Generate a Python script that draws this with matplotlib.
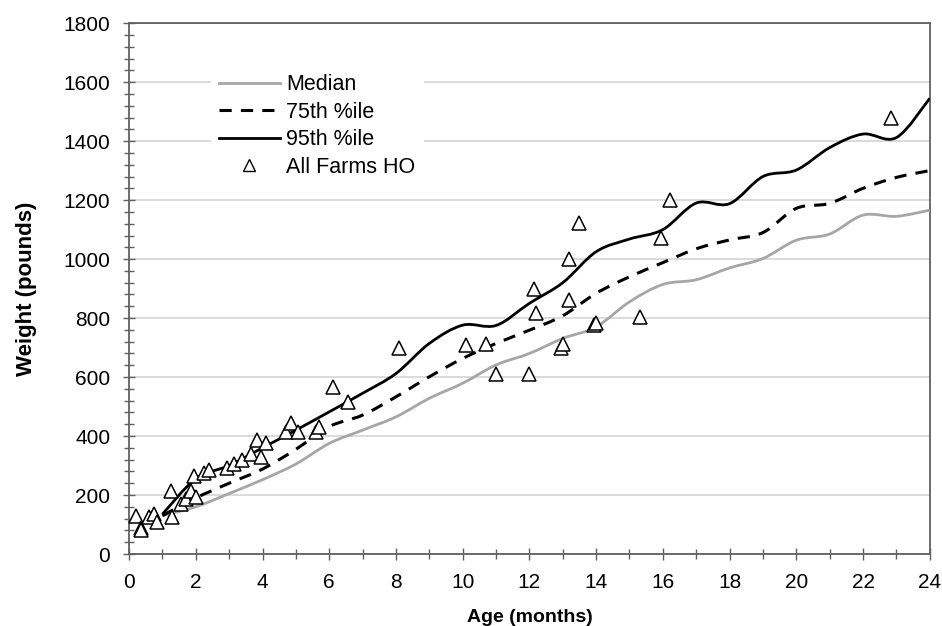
import numpy as np
import matplotlib
matplotlib.use("Agg")
import matplotlib.pyplot as plt
from matplotlib.path import Path
from matplotlib.patches import PathPatch
from matplotlib.lines import Line2D
from matplotlib.ticker import MultipleLocator

plt.rcParams['font.family'] = ['Liberation Sans', 'DejaVu Sans']

# Monthly growth curves (pounds)
months = [1, 2, 3, 4, 5, 6, 7, 8, 9, 10, 11, 12,
          13, 14, 15, 16, 17, 18, 19, 20, 21, 22, 23, 24]
median = [130, 160, 205, 252, 305, 375, 420, 465, 528, 579, 641, 680,
          731, 770, 855, 914, 930, 970, 1002, 1064, 1085, 1149, 1145, 1166]
p75 = [130, 190, 240, 288, 355, 432, 471, 533, 601, 663, 714, 759,
       808, 884, 940, 988, 1035, 1065, 1090, 1172, 1189, 1240, 1277, 1300]
p95 = [135, 255, 300, 360, 420, 482, 545, 612, 714, 776, 775, 850,
       920, 1025, 1068, 1100, 1190, 1188, 1280, 1302, 1378, 1424, 1412, 1545]

# Individual farm observations
farm_age = [0.2, 0.35, 0.37, 0.6, 0.75, 0.85, 1.25, 1.3, 1.55, 1.7, 1.85,
            1.95, 2.0, 2.25, 2.4, 2.95, 3.15, 3.4, 3.65, 3.85, 3.95, 4.1,
            4.7, 4.85, 5.05, 5.6, 5.7, 6.1, 6.55, 8.1, 10.1, 10.7, 11.0,
            12.0, 12.15, 12.2, 12.95, 13.0, 13.2, 13.2, 13.5, 13.95, 14.0,
            15.3, 15.95, 16.2, 22.85]
farm_wt = [130, 88, 80, 125, 135, 108, 215, 125, 170, 185, 215,
           265, 195, 275, 285, 290, 305, 320, 340, 385, 330, 375,
           415, 445, 415, 415, 430, 565, 515, 697, 708, 712, 612,
           612, 900, 816, 700, 712, 1000, 860, 1122, 776, 782,
           804, 1070, 1200, 1480]


def smooth_path(xs, ys):
    # Excel-style smoothed line: cubic bezier segments through each point
    pts = np.column_stack([xs, ys]).astype(float)
    verts = [pts[0]]
    codes = [Path.MOVETO]
    n = len(pts)
    for i in range(n - 1):
        p0 = pts[max(i - 1, 0)]
        p1 = pts[i]
        p2 = pts[i + 1]
        p3 = pts[min(i + 2, n - 1)]
        c1 = p1 + (p2 - p0) / 6.0
        c2 = p2 - (p3 - p1) / 6.0
        verts += [c1, c2, p2]
        codes += [Path.CURVE4] * 3
    return Path(verts, codes)


fig = plt.figure(figsize=(9.42, 6.26), dpi=100)
ax = fig.add_axes([0.137, 0.115, 0.850, 0.848])

ax.set_xlim(0, 24)
ax.set_ylim(0, 1800)

ax.yaxis.grid(True, color='#d4d4d4', linewidth=1.2)
ax.set_axisbelow(True)

gray = '#a6a6a6'
ax.add_patch(PathPatch(smooth_path(months, median), fill=False,
                       edgecolor=gray, linewidth=2.0, zorder=3))
ax.add_patch(PathPatch(smooth_path(months, p75), fill=False,
                       edgecolor='black', linewidth=2.2,
                       linestyle=(0, (4, 3)), zorder=3))
ax.add_patch(PathPatch(smooth_path(months, p95), fill=False,
                       edgecolor='black', linewidth=2.0, zorder=3))

ax.plot(farm_age, farm_wt, linestyle='none', marker='^', markersize=10.5,
        markerfacecolor='white', markeredgecolor='black',
        markeredgewidth=1.1, zorder=4, clip_on=False)

ax.xaxis.set_major_locator(MultipleLocator(2))
ax.xaxis.set_minor_locator(MultipleLocator(1))
ax.yaxis.set_major_locator(MultipleLocator(200))
ax.yaxis.set_minor_locator(MultipleLocator(40))
ax.tick_params(which='both', direction='inout', color='#606060',
               width=1.0, labelsize=15, labelcolor='black')
ax.tick_params(which='major', length=9)
ax.tick_params(which='minor', length=7)
ax.tick_params(axis='x', pad=9)
ax.tick_params(axis='y', pad=9)

for s in ax.spines.values():
    s.set_color('#606060')
    s.set_linewidth(1.3)

ax.set_xlabel('Age (months)', fontsize=14, fontweight='bold')
ax.set_ylabel('Weight (pounds)', fontsize=16, fontweight='bold')
ax.xaxis.set_label_coords(0.5, -0.104)
ax.yaxis.set_label_coords(-0.115, 0.5)

handles = [
    Line2D([], [], color=gray, linewidth=2.0),
    Line2D([], [], color='black', linewidth=2.2, linestyle=(0, (4, 3))),
    Line2D([], [], color='black', linewidth=2.0),
    Line2D([], [], linestyle='none', marker='^', markersize=8,
           markerfacecolor='white', markeredgecolor='black',
           markeredgewidth=1.0),
]
labels = ['Median', '75th %ile', '95th %ile', 'All Farms HO']
leg = ax.legend(handles, labels, loc='upper left',
                bbox_to_anchor=(0.102, 0.92), fontsize=15.5,
                handlelength=2.8, handletextpad=0.3, labelspacing=0.3,
                borderpad=0.4, borderaxespad=0.0, frameon=True,
                fancybox=False)
leg.get_frame().set_facecolor('white')
leg.get_frame().set_edgecolor('none')
leg.get_frame().set_alpha(1)

fig.savefig('out.png', dpi=100)
